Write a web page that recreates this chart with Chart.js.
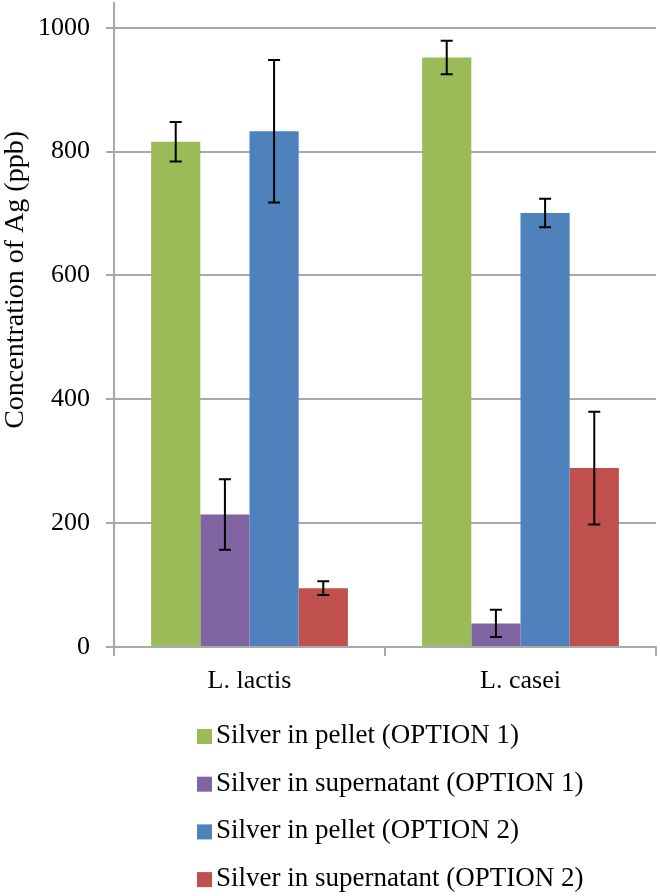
<!DOCTYPE html>
<html lang="en">
<head>
    <meta charset="UTF-8">
    <title>Concentration of Ag</title>
    <script src="https://cdn.jsdelivr.net/npm/chart.js"></script>
    <style>
        body { margin: 0; background: #fff; }
        #myChart { display: block; }
    </style>
</head>
<body>
    <canvas id="myChart" width="660" height="896"></canvas>
    <script>
        // data
        const categories = ['L. lactis', 'L. casei'];
        const seriesNames = [
            'Silver in pellet (OPTION 1)',
            'Silver in supernatant (OPTION 1)',
            'Silver in pellet (OPTION 2)',
            'Silver in supernatant (OPTION 2)'
        ];
        const pelletOpt1 = [816, 952];
        const pelletOpt1Err = [32, 27];
        const supernatantOpt1 = [214, 38];
        const supernatantOpt1Err = [57, 22];
        const pelletOpt2 = [833, 701];
        const pelletOpt2Err = [115, 23];
        const supernatantOpt2 = [95, 289];
        const supernatantOpt2Err = [11, 91];
        const yTicks = [0, 200, 400, 600, 800, 1000];
        const yTitle = 'Concentration of Ag (ppb)';

        const colors = ['#9bbb59', '#8064a2', '#4f81bd', '#c0504d'];
        const values = [pelletOpt1, supernatantOpt1, pelletOpt2, supernatantOpt2];
        const errors = [pelletOpt1Err, supernatantOpt1Err, pelletOpt2Err, supernatantOpt2Err];
        const serif = '"Liberation Serif", "Times New Roman", serif';
        const gridGray = '#a9a9a9';

        // error bars on top of each bar
        const errorBars = {
            id: 'errorBars',
            afterDatasetsDraw(chart) {
                const ctx = chart.ctx;
                const y = chart.scales.y;
                ctx.save();
                ctx.strokeStyle = '#000';
                ctx.lineWidth = 2;
                chart.data.datasets.forEach((ds, i) => {
                    chart.getDatasetMeta(i).data.forEach((bar, j) => {
                        const v = ds.data[j], e = ds.errors[j];
                        const top = y.getPixelForValue(v + e);
                        const bot = y.getPixelForValue(v - e);
                        ctx.beginPath();
                        ctx.moveTo(bar.x, top); ctx.lineTo(bar.x, bot);
                        ctx.moveTo(bar.x - 6, top); ctx.lineTo(bar.x + 6, top);
                        ctx.moveTo(bar.x - 6, bot); ctx.lineTo(bar.x + 6, bot);
                        ctx.stroke();
                    });
                });
                ctx.restore();
            }
        };

        // y title (sits a bit above the plot middle) and left-aligned legend below
        const extras = {
            id: 'extras',
            afterDraw(chart) {
                const ctx = chart.ctx;
                const area = chart.chartArea;
                ctx.save();
                ctx.fillStyle = '#000';
                ctx.font = '28px ' + serif;
                ctx.textAlign = 'center';
                ctx.textBaseline = 'middle';
                ctx.translate(16, area.top + (area.bottom - area.top) * 0.43);
                ctx.rotate(-Math.PI / 2);
                ctx.fillText(yTitle, 0, 0);
                ctx.restore();

                ctx.save();
                ctx.font = '27px ' + serif;
                ctx.textAlign = 'left';
                ctx.textBaseline = 'middle';
                chart.data.datasets.forEach((ds, i) => {
                    const cy = area.bottom + 89 + i * 47.7;
                    ctx.fillStyle = ds.backgroundColor;
                    ctx.fillRect(197, cy - 7, 15, 15);
                    ctx.fillStyle = '#000';
                    ctx.fillText(ds.label, 216, cy);
                });
                ctx.restore();
            }
        };

        const ctx = document.getElementById('myChart').getContext('2d');
        const myChart = new Chart(ctx, {
            type: 'bar',
            data: {
                labels: categories,
                datasets: seriesNames.map((name, i) => ({
                    label: name,
                    data: values[i],
                    errors: errors[i],
                    backgroundColor: colors[i],
                    borderWidth: 0,
                    categoryPercentage: 0.726,
                    barPercentage: 1.0
                }))
            },
            options: {
                responsive: false,
                animation: false,
                layout: { padding: { top: 3, right: 4, left: 0, bottom: 189 } },
                plugins: {
                    legend: { display: false },
                    tooltip: { enabled: false }
                },
                scales: {
                    x: {
                        grid: {
                            display: true,
                            drawOnChartArea: false,
                            drawTicks: true,
                            tickLength: 9,
                            color: gridGray,
                            lineWidth: 2
                        },
                        border: { color: gridGray, width: 2 },
                        ticks: {
                            color: '#000',
                            font: { family: serif, size: 26 },
                            padding: 10
                        },
                        afterFit(scale) {
                            scale.height = 60;
                            scale.paddingLeft = 0;
                            scale.paddingRight = 0;
                        }
                    },
                    y: {
                        min: 0,
                        max: 1040,
                        afterBuildTicks(scale) {
                            scale.ticks = yTicks.map(v => ({ value: v }));
                        },
                        grid: {
                            color: gridGray,
                            lineWidth: 2,
                            tickLength: 8
                        },
                        border: { color: gridGray, width: 2 },
                        ticks: {
                            color: '#000',
                            font: { family: serif, size: 26 },
                            padding: 16,
                            callback: value => String(value)
                        },
                        afterFit(scale) {
                            scale.width = 114;
                            scale.paddingTop = 0;
                            scale.paddingBottom = 0;
                        }
                    }
                }
            },
            plugins: [errorBars, extras]
        });
    </script>
</body>
</html>
